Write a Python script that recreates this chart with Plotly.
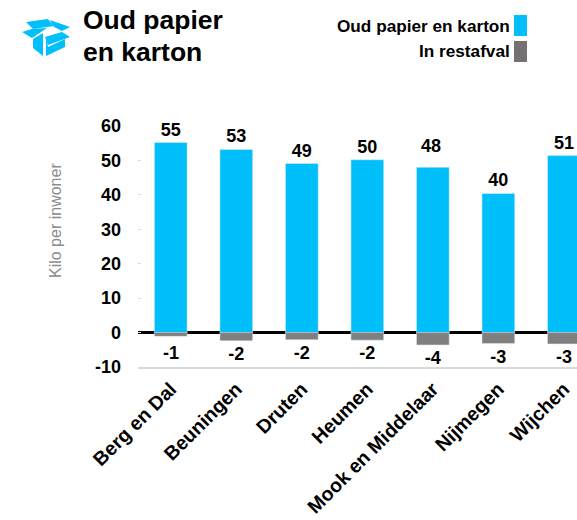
import plotly.graph_objects as go

W, H = 577, 520
FONT = "Liberation Sans, Arial, sans-serif"
BLUE = "#00BFFA"
GRAY = "#7F7F7F"
SWATCH_GRAY = "#767171"
INK = "#000000"

categories = ["Berg en Dal", "Beuningen", "Druten", "Heumen", "Mook en Middelaar", "Nijmegen", "Wijchen"]
papier = [55.2, 53.2, 49.1, 50.2, 48.0, 40.4, 51.4]
restafval = [-1.1, -2.4, -2.1, -2.2, -3.6, -3.2, -3.3]
papier_labels = ["55", "53", "49", "50", "", "40", "51"]
rest_labels = ["", "-2", "-2", "-2", "-4", "-3", "-3"]
y_ticks = [-10, 0, 10, 20, 30, 40, 50, 60]
y_tick_labels = ["-10", "0", "10", "20", "30", "40", "50", "60"]

label_font = dict(family=FONT, size=18, color=INK, weight="bold")

fig = go.Figure()
fig.add_bar(x=categories, y=papier, name="Oud papier en karton", marker_color=BLUE, width=0.5,
            text=papier_labels, textposition="outside", cliponaxis=False, textfont=label_font)
fig.add_bar(x=categories, y=restafval, name="In restafval", marker_color=GRAY, width=0.5,
            text=rest_labels, textposition="outside", cliponaxis=False, textfont=label_font)


def px(x):
    return x / W


def py(y):
    return 1 - y / H


def path(points):
    return "M" + " L".join(f"{px(a):.5f},{py(b):.5f}" for a, b in points) + " Z"


icon = [
    [(26, 22), (48, 19), (54, 26), (33, 29)],
    [(50, 20), (70, 27), (62, 31), (54, 27)],
    [(22, 32), (32, 29), (47, 28), (32, 38)],
    [(45, 37), (62, 32), (70, 37), (48, 45)],
    [(33, 39), (43, 33), (43, 56), (33, 48)],
    [(46, 37), (48, 47), (65, 39), (65, 47), (46, 56)],
]
shapes = [dict(type="path", xref="paper", yref="paper", path=path(p), fillcolor=BLUE, line_width=0) for p in icon]
shapes += [
    dict(type="rect", xref="paper", yref="paper", x0=px(514), x1=px(527), y0=py(15), y1=py(36), fillcolor=BLUE, line_width=0),
    dict(type="rect", xref="paper", yref="paper", x0=px(514), x1=px(527), y0=py(41), y1=py(62), fillcolor=SWATCH_GRAY, line_width=0),
]

annotations = [
    dict(text="<b>Oud papier</b>", xref="paper", yref="paper", x=px(81), y=py(20), xanchor="left", yanchor="middle",
         showarrow=False, font=dict(family=FONT, size=26.5, color=INK)),
    dict(text="<b>en karton</b>", xref="paper", yref="paper", x=px(81), y=py(52), xanchor="left", yanchor="middle",
         showarrow=False, font=dict(family=FONT, size=26.5, color=INK)),
    dict(text="<b>Oud papier en karton</b>", xref="paper", yref="paper", x=px(512), y=py(26), xanchor="right", yanchor="middle",
         showarrow=False, font=dict(family=FONT, size=17.2, color=INK)),
    dict(text="<b>In restafval</b>", xref="paper", yref="paper", x=px(512), y=py(51), xanchor="right", yanchor="middle",
         showarrow=False, font=dict(family=FONT, size=17.2, color=INK)),
    dict(text="Kilo per inwoner", xref="paper", yref="paper", x=px(55), y=py(221), xanchor="center", yanchor="middle",
         textangle=-90, showarrow=False, font=dict(family=FONT, size=16, color="#8c8c8c")),
    dict(text="48", x=categories[4], y=papier[4], xref="x", yref="y", yanchor="bottom", xshift=-2, yshift=9,
         showarrow=False, font=label_font),
    dict(text="-1", x=categories[0], y=restafval[0], xref="x", yref="y", yanchor="top", yshift=-5,
         showarrow=False, font=label_font),
]

fig.update_layout(
    width=W, height=H, margin=dict(l=0, r=0, t=0, b=0, autoexpand=False), paper_bgcolor="white", plot_bgcolor="white",
    barmode="overlay", showlegend=False, shapes=shapes, annotations=annotations,
    font=dict(family=FONT),
    xaxis=dict(domain=[px(138), 1], range=[-0.5, 6.2], tickangle=-45, showgrid=False, showline=True, linecolor="#d9d9d9",
               linewidth=2, ticks="", automargin=False, ticklabelstandoff=1,
               tickfont=dict(family=FONT, size=19.5, color=INK, weight="bold"), fixedrange=True),
    yaxis=dict(domain=[py(367), py(126)], range=[-10, 60], tickvals=y_ticks, ticktext=y_tick_labels, showgrid=False,
               zeroline=True, zerolinecolor="black", zerolinewidth=2.5, showline=False, ticks="inside", ticklen=3,
               tickcolor="#d9d9d9", ticklabelstandoff=16, automargin=False,
               tickfont=dict(family=FONT, size=18, color=INK, weight="bold"), fixedrange=True),
)

fig.write_html("out.html", post_script="document.body.style.margin='0';", config={"displayModeBar": False})
